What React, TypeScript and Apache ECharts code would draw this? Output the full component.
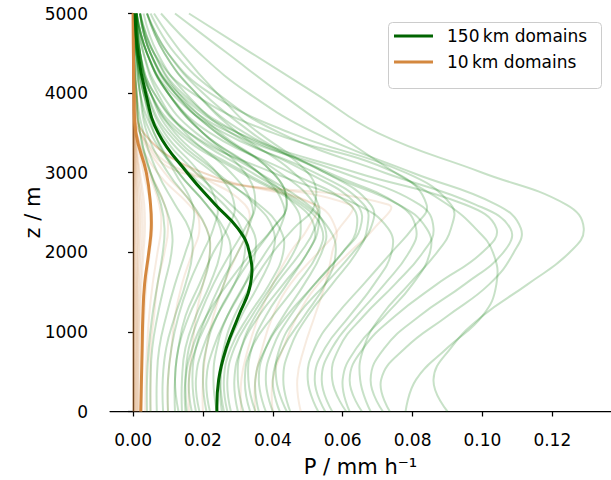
import React, { useEffect, useRef } from "react";
import * as echarts from "echarts";

// heights (m) at which every profile is sampled
const heights = [0, 400, 800, 1200, 1600, 2000, 2300, 2600, 3000, 3500, 4000, 4500, 5000];

// x tick labels (mm/h)
const xTicks = [0, 0.02, 0.04, 0.06, 0.08, 0.1, 0.12];

// mean profiles
const mean150 = [0.024, 0.0245, 0.0267, 0.0302, 0.0336, 0.0333, 0.03, 0.0235, 0.0155, 0.0072, 0.0036, 0.0014, 0.0006];
const mean10 = [0.0022, 0.0024, 0.0026, 0.0028, 0.0033, 0.0045, 0.0052, 0.005, 0.0038, 0.0008, 0.0003, 0.0001, 0.0];

// individual 150 km domain profiles
const profiles150: number[][] = [
  [0.09, 0.086, 0.091, 0.1, 0.113, 0.125, 0.129, 0.124, 0.1, 0.07, 0.052, 0.034, 0.016],
  [0.078, 0.081, 0.09, 0.1, 0.104, 0.103, 0.098, 0.09, 0.075, 0.058, 0.042, 0.027, 0.012],
  [0.0735, 0.071, 0.078, 0.09, 0.102, 0.109, 0.111, 0.104, 0.08, 0.052, 0.033, 0.019, 0.008],
  [0.0715, 0.068, 0.072, 0.082, 0.095, 0.106, 0.108, 0.098, 0.072, 0.042, 0.024, 0.012, 0.005],
  [0.068, 0.065, 0.066, 0.071, 0.079, 0.087, 0.091, 0.091, 0.078, 0.045, 0.022, 0.01, 0.004],
  [0.0655, 0.062, 0.066, 0.075, 0.087, 0.1, 0.104, 0.095, 0.064, 0.03, 0.013, 0.005, 0.002],
  [0.061, 0.057, 0.059, 0.066, 0.075, 0.083, 0.086, 0.082, 0.06, 0.028, 0.012, 0.005, 0.002],
  [0.057, 0.054, 0.057, 0.064, 0.072, 0.079, 0.081, 0.076, 0.056, 0.032, 0.018, 0.009, 0.004],
  [0.055, 0.052, 0.055, 0.062, 0.069, 0.074, 0.073, 0.064, 0.04, 0.016, 0.006, 0.002, 0.001],
  [0.053, 0.05, 0.052, 0.058, 0.066, 0.074, 0.08, 0.084, 0.075, 0.04, 0.017, 0.006, 0.002],
  [0.062, 0.06, 0.064, 0.072, 0.08, 0.085, 0.084, 0.076, 0.055, 0.036, 0.024, 0.014, 0.006],
  [0.045, 0.043, 0.045, 0.05, 0.057, 0.064, 0.067, 0.066, 0.052, 0.026, 0.011, 0.004, 0.001],
  [0.044, 0.041, 0.042, 0.047, 0.055, 0.063, 0.068, 0.068, 0.055, 0.03, 0.014, 0.006, 0.002],
  [0.042, 0.04, 0.043, 0.049, 0.055, 0.058, 0.056, 0.049, 0.034, 0.016, 0.006, 0.002, 0.001],
  [0.04, 0.038, 0.04, 0.045, 0.052, 0.06, 0.065, 0.064, 0.05, 0.028, 0.015, 0.007, 0.003],
  [0.038, 0.036, 0.038, 0.043, 0.049, 0.054, 0.055, 0.05, 0.036, 0.018, 0.008, 0.003, 0.001],
  [0.036, 0.035, 0.038, 0.044, 0.052, 0.06, 0.064, 0.062, 0.045, 0.022, 0.01, 0.004, 0.001],
  [0.035, 0.033, 0.034, 0.038, 0.044, 0.05, 0.053, 0.052, 0.042, 0.024, 0.012, 0.005, 0.002],
  [0.0335, 0.032, 0.034, 0.04, 0.047, 0.053, 0.054, 0.048, 0.032, 0.014, 0.005, 0.002, 0.001],
  [0.0316, 0.03, 0.031, 0.035, 0.041, 0.048, 0.052, 0.053, 0.046, 0.03, 0.018, 0.009, 0.004],
  [0.03, 0.029, 0.031, 0.036, 0.043, 0.05, 0.052, 0.047, 0.031, 0.013, 0.005, 0.002, 0.001],
  [0.028, 0.027, 0.029, 0.034, 0.04, 0.046, 0.048, 0.046, 0.036, 0.02, 0.01, 0.004, 0.001],
  [0.027, 0.026, 0.028, 0.033, 0.039, 0.043, 0.042, 0.036, 0.023, 0.01, 0.004, 0.001, 0.0005],
  [0.0254, 0.025, 0.027, 0.031, 0.036, 0.04, 0.04, 0.035, 0.024, 0.011, 0.005, 0.002, 0.001],
  [0.024, 0.023, 0.024, 0.027, 0.032, 0.038, 0.042, 0.043, 0.036, 0.02, 0.01, 0.004, 0.001],
  [0.022, 0.021, 0.023, 0.027, 0.032, 0.035, 0.034, 0.028, 0.018, 0.008, 0.003, 0.001, 0.0005],
  [0.021, 0.02, 0.021, 0.024, 0.029, 0.035, 0.04, 0.044, 0.04, 0.025, 0.013, 0.006, 0.002],
  [0.019, 0.018, 0.02, 0.024, 0.029, 0.032, 0.031, 0.026, 0.016, 0.007, 0.003, 0.001, 0.0003],
  [0.018, 0.017, 0.018, 0.021, 0.025, 0.03, 0.033, 0.034, 0.028, 0.015, 0.007, 0.003, 0.001],
  [0.0168, 0.016, 0.018, 0.022, 0.026, 0.028, 0.026, 0.021, 0.013, 0.005, 0.002, 0.001, 0.0003],
  [0.0154, 0.015, 0.016, 0.019, 0.023, 0.028, 0.032, 0.035, 0.032, 0.02, 0.01, 0.004, 0.001],
  [0.014, 0.014, 0.015, 0.018, 0.022, 0.025, 0.025, 0.021, 0.013, 0.006, 0.002, 0.001, 0.0003],
  [0.013, 0.012, 0.013, 0.015, 0.019, 0.023, 0.027, 0.029, 0.024, 0.012, 0.005, 0.002, 0.001],
  [0.012, 0.012, 0.013, 0.016, 0.02, 0.022, 0.021, 0.017, 0.01, 0.004, 0.002, 0.001, 0.0003],
  [0.01, 0.01, 0.011, 0.013, 0.016, 0.02, 0.023, 0.024, 0.019, 0.009, 0.004, 0.002, 0.001],
  [0.0086, 0.0085, 0.0095, 0.012, 0.015, 0.017, 0.016, 0.012, 0.007, 0.003, 0.001, 0.0005, 0.0002],
  [0.0068, 0.0068, 0.0075, 0.0095, 0.012, 0.015, 0.017, 0.017, 0.012, 0.006, 0.003, 0.001, 0.0005],
  [0.005, 0.005, 0.0055, 0.007, 0.009, 0.011, 0.011, 0.009, 0.005, 0.002, 0.001, 0.0005, 0.0002],
  [0.004, 0.004, 0.0045, 0.0055, 0.007, 0.0085, 0.009, 0.008, 0.005, 0.002, 0.0008, 0.0003, 0.0001],
  [0.026, 0.025, 0.026, 0.029, 0.034, 0.04, 0.046, 0.052, 0.05, 0.034, 0.02, 0.01, 0.004],
  [0.015, 0.015, 0.017, 0.021, 0.027, 0.034, 0.04, 0.044, 0.04, 0.024, 0.012, 0.005, 0.002],
];

// individual 10 km domain profiles
const profiles10: number[][] = [
  [0.0012, 0.0012, 0.0013, 0.0014, 0.0016, 0.002, 0.0022, 0.0021, 0.0014, 0.0005, 0.0002, 0.0001, 0.0],
  [0.0008, 0.0008, 0.0009, 0.001, 0.0011, 0.0013, 0.0014, 0.0013, 0.0009, 0.0003, 0.0001, 0.0, 0.0],
  [0.0004, 0.0004, 0.0004, 0.0005, 0.0006, 0.0007, 0.0008, 0.0007, 0.0005, 0.0002, 0.0001, 0.0, 0.0],
  [0.0002, 0.0002, 0.0002, 0.0002, 0.0003, 0.0003, 0.0004, 0.0003, 0.0002, 0.0001, 0.0, 0.0, 0.0],
  [0.0016, 0.0017, 0.0018, 0.002, 0.0024, 0.003, 0.0034, 0.0032, 0.002, 0.0006, 0.0002, 0.0001, 0.0],
  [0.0001, 0.0001, 0.0001, 0.0001, 0.0001, 0.0002, 0.0002, 0.0002, 0.0001, 0.0, 0.0, 0.0, 0.0],
  [0.0025, 0.0026, 0.0028, 0.0032, 0.0038, 0.0048, 0.0055, 0.005, 0.003, 0.0008, 0.0002, 0.0001, 0.0],
  [0.0006, 0.0006, 0.0007, 0.0008, 0.0009, 0.0011, 0.0012, 0.0011, 0.0007, 0.0002, 0.0001, 0.0, 0.0],
  [0.0035, 0.0036, 0.004, 0.0046, 0.0056, 0.007, 0.008, 0.0075, 0.0045, 0.001, 0.0003, 0.0001, 0.0],
  [0.0, 0.0, 0.0, 0.0, 0.0001, 0.0001, 0.0001, 0.0001, 0.0, 0.0, 0.0, 0.0, 0.0],
  [0.001, 0.001, 0.0011, 0.0012, 0.0013, 0.0016, 0.0018, 0.0017, 0.0011, 0.0004, 0.0001, 0.0, 0.0],
  [0.0003, 0.0003, 0.0003, 0.0004, 0.0004, 0.0005, 0.0006, 0.0005, 0.0004, 0.0001, 0.0, 0.0, 0.0],
  [0.0014, 0.0014, 0.0015, 0.0017, 0.002, 0.0025, 0.0028, 0.0026, 0.0017, 0.0005, 0.0002, 0.0001, 0.0],
  [0.01, 0.01, 0.011, 0.012, 0.014, 0.017, 0.019, 0.017, 0.009, 0.002, 0.0005, 0.0001, 0.0],
  [0.016, 0.016, 0.017, 0.018, 0.02, 0.022, 0.021, 0.016, 0.007, 0.001, 0.0003, 0.0001, 0.0],
  [0.031, 0.031, 0.033, 0.036, 0.04, 0.045, 0.05, 0.052, 0.02, 0.003, 0.001, 0.0002, 0.0],
  [0.04, 0.04, 0.043, 0.047, 0.053, 0.062, 0.069, 0.073, 0.014, 0.002, 0.0005, 0.0001, 0.0],
  [0.035, 0.035, 0.037, 0.04, 0.045, 0.053, 0.059, 0.062, 0.016, 0.002, 0.0005, 0.0001, 0.0],
  [0.048, 0.047, 0.049, 0.052, 0.055, 0.057, 0.058, 0.052, 0.02, 0.003, 0.001, 0.0002, 0.0],
  [0.005, 0.005, 0.005, 0.006, 0.007, 0.009, 0.01, 0.009, 0.005, 0.001, 0.0003, 0.0001, 0.0],
  [0.02, 0.02, 0.021, 0.023, 0.026, 0.03, 0.033, 0.032, 0.018, 0.003, 0.001, 0.0002, 0.0],
];

const name150 = "150\u2009km domains";
const name10 = "10\u2009km domains";

const FONT = "DejaVu Sans";

// one custom series drawing a smooth polyline per profile through the axes' scales
function profileSeries(
  name: string,
  profiles: number[][],
  color: string,
  width: number,
  z: number
) {
  return {
    type: "custom" as const,
    name,
    coordinateSystem: "cartesian2d",
    silent: true,
    z,
    data: profiles.map((p, i) => [p[0], heights[0], i]),
    encode: { x: 0, y: 1 },
    renderItem: (params: any, api: any) => {
      const p = profiles[params.dataIndex];
      const points = p.map((v, k) => api.coord([v, heights[k]]));
      return {
        type: "polyline",
        shape: { points, smooth: 0.45 },
        style: { stroke: color, lineWidth: width, fill: "none", lineJoin: "round" },
        silent: true,
      };
    },
  };
}

export default function App() {
  const ref = useRef<HTMLDivElement>(null);

  useEffect(() => {
    if (!ref.current) return;
    const chart = echarts.init(ref.current, undefined, { renderer: "svg" });

    const series: any[] = [
      profileSeries("o", profiles10, "rgba(205,133,63,0.16)", 2, 2),
      profileSeries("g", profiles150, "rgba(0,120,0,0.22)", 2, 3),
      profileSeries(name10, [mean10], "#d4883f", 3, 4),
      profileSeries(name150, [mean150], "#006400", 3, 5),
    ];

    chart.setOption({
      animation: false,
      backgroundColor: "#ffffff",
      textStyle: { fontFamily: FONT },
      grid: { left: 110, right: 0, top: 13.5, bottom: 68.5, outerBoundsMode: "none" },
      xAxis: {
        type: "value",
        min: -0.0066,
        max: 0.1368,
        offset: 10,
        name: "P / mm h\u207B\u00B9",
        nameLocation: "middle",
        nameGap: 35,
        nameMoveOverlap: false,
        nameTextStyle: { fontSize: 21, color: "#000", fontFamily: FONT },
        axisLine: { show: true, lineStyle: { color: "#000", width: 1.25 } },
        axisTick: {
          show: true,
          length: 5,
          lineStyle: { color: "#000", width: 1.25 },
          customValues: xTicks,
        },
        axisLabel: {
          fontSize: 17,
          color: "#000",
          fontFamily: FONT,
          margin: 10,
          customValues: xTicks,
          formatter: (v: number) => v.toFixed(2),
        },
        splitLine: { show: false },
      },
      yAxis: {
        type: "value",
        min: 0,
        max: 5000,
        interval: 1000,
        offset: 10,
        name: "z / m",
        nameLocation: "middle",
        nameGap: 57,
        nameMoveOverlap: false,
        nameTextStyle: { fontSize: 21, color: "#000", fontFamily: FONT },
        axisLine: { show: true, lineStyle: { color: "#000", width: 1.25 } },
        axisTick: { show: true, length: 5, lineStyle: { color: "#000", width: 1.25 } },
        axisLabel: {
          fontSize: 17,
          color: "#000",
          fontFamily: FONT,
          margin: 12,
          formatter: (v: number) => String(v),
        },
        splitLine: { show: false },
      },
      graphic: [
        {
          type: "rect",
          shape: { x: 388.5, y: 22.5, width: 213, height: 66, r: 4 },
          style: { fill: "rgba(255,255,255,0.8)", stroke: "#cccccc", lineWidth: 1 },
          z: 100,
        },
        {
          type: "line",
          shape: { x1: 394, y1: 36, x2: 433, y2: 36 },
          style: { stroke: "#006400", lineWidth: 3 },
          z: 101,
        },
        {
          type: "text",
          x: 447,
          y: 36,
          style: { text: name150, font: `17px "${FONT}"`, fill: "#000", verticalAlign: "middle", align: "left" },
          z: 101,
        },
        {
          type: "line",
          shape: { x1: 394, y1: 62, x2: 433, y2: 62 },
          style: { stroke: "#d4883f", lineWidth: 3 },
          z: 101,
        },
        {
          type: "text",
          x: 447,
          y: 62,
          style: { text: name10, font: `17px "${FONT}"`, fill: "#000", verticalAlign: "middle", align: "left" },
          z: 101,
        },
      ],
      series,
    });

    return () => chart.dispose();
  }, []);

  return (
    <div
      ref={ref}
      style={{ position: "fixed", left: 0, top: 0, width: 611, height: 480, background: "#fff" }}
    />
  );
}
